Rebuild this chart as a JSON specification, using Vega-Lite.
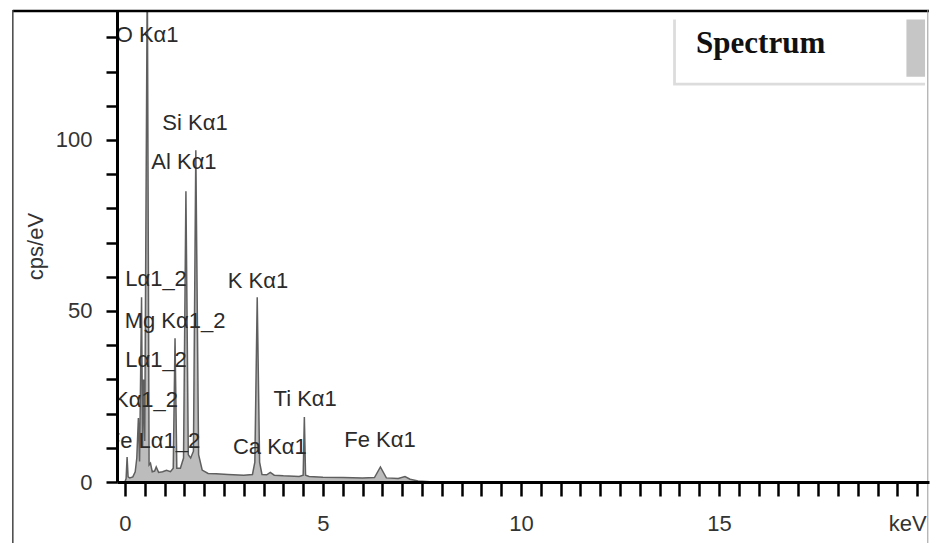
{
  "$schema": "https://vega.github.io/schema/vega-lite/v6.json",
  "width": 812,
  "height": 472,
  "autosize": {"type": "none"},
  "padding": {"left": 117, "top": 10, "right": 1, "bottom": 61},
  "background": "white",
  "config": {
    "view": {"stroke": null},
    "font": "Liberation Sans",
    "axis": {"labelOverlap": false, "labelFlush": false, "grid": false}
  },
  "resolve": {"axis": {"x": "independent", "y": "independent"}},
  "datasets": {
    "spectrum": [
      {"keV": 0.0, "cps": 0}, {"keV": 0.03, "cps": 1}, {"keV": 0.055, "cps": 7.3}, {"keV": 0.08, "cps": 1.5},
      {"keV": 0.12, "cps": 1.2}, {"keV": 0.2, "cps": 1.5}, {"keV": 0.26, "cps": 3}, {"keV": 0.3, "cps": 7},
      {"keV": 0.34, "cps": 18.7}, {"keV": 0.37, "cps": 6}, {"keV": 0.42, "cps": 54}, {"keV": 0.445, "cps": 10},
      {"keV": 0.47, "cps": 30}, {"keV": 0.5, "cps": 12}, {"keV": 0.565, "cps": 150}, {"keV": 0.61, "cps": 5},
      {"keV": 0.645, "cps": 5.5}, {"keV": 0.69, "cps": 3}, {"keV": 0.75, "cps": 3.2}, {"keV": 0.79, "cps": 4.4},
      {"keV": 0.85, "cps": 2.8}, {"keV": 0.95, "cps": 3}, {"keV": 1.05, "cps": 3.4}, {"keV": 1.15, "cps": 3.0},
      {"keV": 1.22, "cps": 4}, {"keV": 1.265, "cps": 42}, {"keV": 1.31, "cps": 4}, {"keV": 1.4, "cps": 4},
      {"keV": 1.48, "cps": 7}, {"keV": 1.54, "cps": 85}, {"keV": 1.6, "cps": 8}, {"keV": 1.66, "cps": 7},
      {"keV": 1.73, "cps": 9}, {"keV": 1.79, "cps": 97}, {"keV": 1.86, "cps": 8}, {"keV": 1.95, "cps": 3.5},
      {"keV": 2.1, "cps": 2.5}, {"keV": 2.3, "cps": 2.4}, {"keV": 2.6, "cps": 2.2}, {"keV": 3.0, "cps": 2.0},
      {"keV": 3.22, "cps": 2.2}, {"keV": 3.28, "cps": 5.8}, {"keV": 3.34, "cps": 54}, {"keV": 3.4, "cps": 5.8},
      {"keV": 3.46, "cps": 2.2}, {"keV": 3.58, "cps": 2.1}, {"keV": 3.67, "cps": 2.8}, {"keV": 3.77, "cps": 2.0},
      {"keV": 4.0, "cps": 1.8}, {"keV": 4.4, "cps": 1.6}, {"keV": 4.5, "cps": 2}, {"keV": 4.53, "cps": 19},
      {"keV": 4.56, "cps": 2}, {"keV": 4.65, "cps": 1.6}, {"keV": 5.0, "cps": 1.4}, {"keV": 5.5, "cps": 1.3},
      {"keV": 6.0, "cps": 1.2}, {"keV": 6.3, "cps": 1.3}, {"keV": 6.45, "cps": 4.4}, {"keV": 6.6, "cps": 1.2},
      {"keV": 6.9, "cps": 1.0}, {"keV": 7.07, "cps": 1.6}, {"keV": 7.2, "cps": 0.8}, {"keV": 7.4, "cps": 0.3},
      {"keV": 7.8, "cps": 0}
    ],
    "labels": [
      {"keV": 0.56, "cps": 130.7, "label": "O Kα1"},
      {"keV": 1.77, "cps": 105, "label": "Si Kα1"},
      {"keV": 1.49, "cps": 93.6, "label": "Al Kα1"},
      {"keV": 0.785, "cps": 59.4, "label": "Lα1_2"},
      {"keV": 1.265, "cps": 47, "label": "Mg Kα1_2"},
      {"keV": 0.785, "cps": 35.7, "label": "Lα1_2"},
      {"keV": 0.255, "cps": 24, "label": "C Kα1_2"},
      {"keV": 0.72, "cps": 12, "label": "Fe Lα1_2"},
      {"keV": 3.36, "cps": 58.8, "label": "K Kα1"},
      {"keV": 4.55, "cps": 24.3, "label": "Ti Kα1"},
      {"keV": 3.66, "cps": 10.2, "label": "Ca Kα1"},
      {"keV": 6.44, "cps": 12.3, "label": "Fe Kα1"}
    ]
  },
  "layer": [
    {
      "data": {"name": "spectrum"},
      "mark": {"type": "area", "fill": "#bcbcbc", "stroke": "#5f5f5f", "strokeWidth": 1.5, "clip": true},
      "encoding": {
        "x": {
          "field": "keV", "type": "quantitative",
          "scale": {"domain": [-0.2, 20.3], "nice": false, "zero": false},
          "axis": {
            "title": null,
            "values": [0,0.5,1,1.5,2,2.5,3,3.5,4,4.5,5,5.5,6,6.5,7,7.5,8,8.5,9,9.5,10,10.5,11,11.5,12,12.5,13,13.5,14,14.5,15,15.5,16,16.5,17,17.5,18,18.5,19,19.5,20],
            "grid": false,
            "domainColor": "black", "domainWidth": 3,
            "tickColor": "black", "tickWidth": 2.5, "tickSize": 14,
            "encode": {"ticks": {"update": {"y2": {"signal": "datum.value % 5 === 0 ? 22 : 14"}}}},
            "labelExpr": "datum.value === 20 ? 'keV' : (datum.value % 5 === 0 ? '' + datum.value : '')",
            "labelOffset": {"condition": {"test": "datum.value === 20", "value": -10}, "value": 0},
            "labelFont": "Liberation Sans", "labelFontSize": 22, "labelColor": "#333",
            "labelPadding": 17, "labelOverlap": false, "labelFlush": false,
            "zindex": 1
          }
        },
        "y": {
          "field": "cps", "type": "quantitative",
          "scale": {"domain": [0, 138], "nice": false},
          "axis": {
            "title": "cps/eV",
            "titleFont": "Liberation Sans", "titleFontSize": 22, "titleFontWeight": "normal", "titleColor": "#333",
            "titlePadding": 8,
            "values": [0,10,20,30,40,50,60,70,80,90,100,110,120,130],
            "grid": false,
            "domainColor": "black", "domainWidth": 3,
            "tickColor": "black", "tickWidth": 2.5, "tickSize": 11,
            "encode": {"ticks": {"update": {"x2": {"signal": "datum.value % 50 === 0 ? -20 : -11"}}}},
            "labelExpr": "datum.value % 50 === 0 ? '' + datum.value : ''",
            "labelFont": "Liberation Sans", "labelFontSize": 22, "labelColor": "#333",
            "labelPadding": 14, "labelOverlap": false, "labelFlush": false,
            "zindex": 1
          }
        }
      }
    },
    {
      "data": {"name": "labels"},
      "mark": {"type": "text", "font": "Liberation Sans", "fontSize": 22, "color": "#2b2b2b", "align": "center", "baseline": "middle", "clip": true},
      "encoding": {
        "x": {"field": "keV", "type": "quantitative", "axis": null},
        "y": {"field": "cps", "type": "quantitative", "axis": null},
        "text": {"field": "label"}
      }
    },
    {
      "data": {"values": [{"box": "shadow"}]},
      "mark": {"type": "rect", "fill": "#9a9a9a", "opacity": 0.35},
      "encoding": {
        "x": {"datum": 13.84, "axis": null}, "x2": {"datum": 20.2},
        "y": {"datum": 115.9, "axis": null}, "y2": {"datum": 135.2}
      }
    },
    {
      "data": {"values": [{"box": "panel"}]},
      "mark": {"type": "rect", "fill": "white"},
      "encoding": {
        "x": {"datum": 13.91, "axis": null}, "x2": {"datum": 20.2},
        "y": {"datum": 116.7, "axis": null}, "y2": {"datum": 135.7}
      }
    },
    {
      "data": {"values": [{"box": "bar"}]},
      "mark": {"type": "rect", "fill": "#c6c6c6"},
      "encoding": {
        "x": {"datum": 19.73, "axis": null}, "x2": {"datum": 20.2},
        "y": {"datum": 118.5, "axis": null}, "y2": {"datum": 135.2}
      }
    },
    {
      "data": {"values": [{"box": "title"}]},
      "mark": {"type": "text", "text": "Spectrum", "font": "Liberation Serif", "fontWeight": "bold", "fontSize": 31, "color": "#111", "align": "center", "baseline": "alphabetic"},
      "encoding": {
        "x": {"datum": 16.05, "axis": null},
        "y": {"datum": 125.3, "axis": null}
      }
    },
    {
      "data": {"values": [{"edge": "top"}]},
      "mark": {"type": "rule", "color": "black", "strokeWidth": 2.5},
      "encoding": {
        "x": {"datum": -2.83, "axis": null}, "x2": {"datum": 20.3},
        "y": {"datum": 137.7, "axis": null}
      }
    },
    {
      "data": {"values": [{"edge": "left"}]},
      "mark": {"type": "rule", "color": "#444", "strokeWidth": 1.5},
      "encoding": {
        "x": {"datum": -2.83, "axis": null},
        "y": {"datum": -25, "axis": null}, "y2": {"datum": 138}
      }
    },
    {
      "data": {"values": [{"edge": "right"}]},
      "mark": {"type": "rule", "color": "#999", "strokeWidth": 1},
      "encoding": {
        "x": {"datum": 20.27, "axis": null},
        "y": {"datum": -25, "axis": null}, "y2": {"datum": 138}
      }
    }
  ]
}
